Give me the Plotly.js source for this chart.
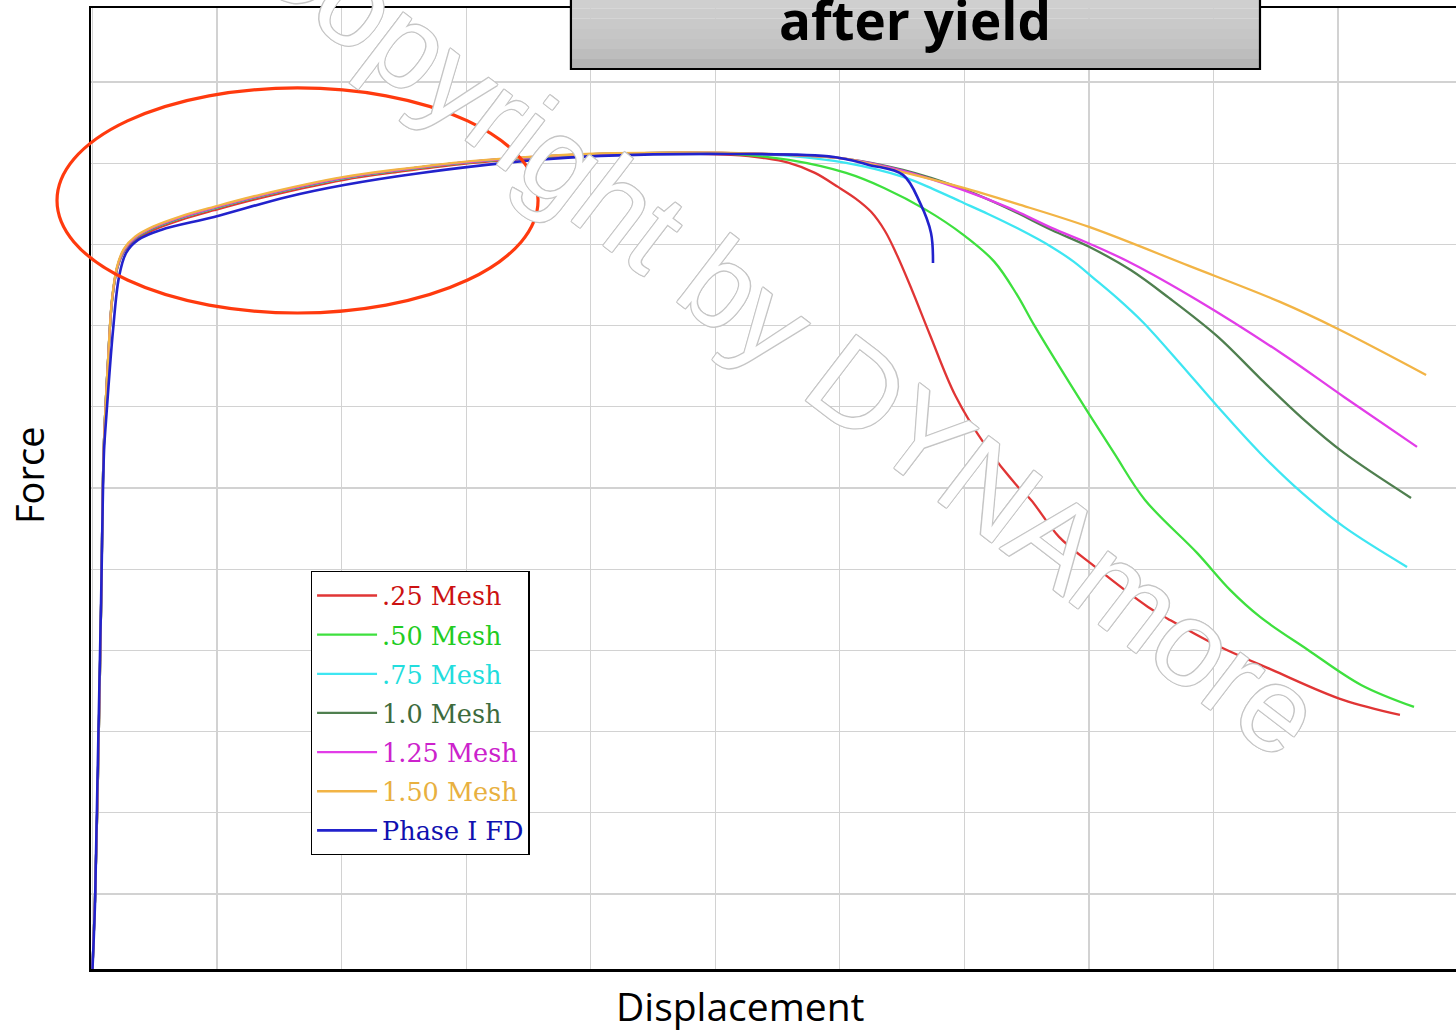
<!DOCTYPE html>
<html>
<head>
<meta charset="utf-8">
<script src="https://cdn.plot.ly/plotly-3.0.1.min.js"></script>
<style>html,body{margin:0;padding:0;background:#fff;}#chart{width:1456px;height:1032px;}</style>
</head>
<body>
<div id="chart"></div>
<script>
// Series names and colours
const seriesNames = ['.25 Mesh', '.50 Mesh', '.75 Mesh', '1.0 Mesh', '1.25 Mesh', '1.50 Mesh', 'Phase I FD'];
const lineColors = ['#e03535', '#3ee03e', '#3ee6f2', '#4f7f4f', '#e23de8', '#f2b445', '#2222cc'];
const labelColors = ['#cc1111', '#22cc22', '#22dddd', '#3d6b3d', '#cc22cc', '#e8b040', '#1010b0'];
const xTitle = 'Displacement';
const yTitle = 'Force';
const chartTitle = 'after yield';

// Displacement / Force values (grid units)
const x_025 = [0.00, 0.02, 0.04, 0.07, 0.09, 0.125, 0.157, 0.197, 0.253, 0.342, 0.486, 0.703, 0.976, 1.345, 2.020, 2.469, 2.943, 3.561, 4.075, 4.556, 5.126, 5.400, 5.592, 5.800, 5.985, 6.130, 6.251, 6.360, 6.451, 6.579, 6.724, 6.925, 7.166, 7.431, 7.535, 7.760, 8.040, 8.474, 8.635, 8.988, 9.470, 10.040, 10.497];
const y_025 = [0.076, 0.926, 2.158, 4.621, 6.468, 7.576, 8.300, 8.690, 8.910, 9.055, 9.175, 9.298, 9.420, 9.570, 9.795, 9.895, 9.985, 10.062, 10.105, 10.120, 10.101, 10.060, 10.002, 9.880, 9.707, 9.560, 9.400, 9.170, 8.894, 8.438, 7.884, 7.145, 6.530, 6.012, 5.852, 5.397, 5.039, 4.534, 4.387, 4.091, 3.759, 3.389, 3.205];

const x_050 = [0.00, 0.02, 0.04, 0.07, 0.09, 0.125, 0.157, 0.197, 0.253, 0.342, 0.486, 0.703, 0.976, 1.345, 2.020, 2.469, 2.943, 3.561, 4.075, 4.556, 5.126, 5.592, 6.050, 6.355, 6.692, 6.989, 7.238, 7.423, 7.559, 7.864, 8.201, 8.450, 8.868, 9.133, 9.374, 9.759, 10.185, 10.610];
const y_050 = [0.076, 0.926, 2.158, 4.621, 6.468, 7.576, 8.310, 8.705, 8.925, 9.072, 9.195, 9.318, 9.440, 9.590, 9.812, 9.910, 9.998, 10.072, 10.110, 10.124, 10.113, 10.039, 9.879, 9.694, 9.424, 9.120, 8.790, 8.377, 8.007, 7.244, 6.431, 5.852, 5.200, 4.744, 4.411, 4.005, 3.574, 3.303];

const x_075 = [0.00, 0.02, 0.04, 0.07, 0.09, 0.125, 0.157, 0.197, 0.253, 0.342, 0.486, 0.703, 0.976, 1.345, 2.020, 2.469, 2.943, 3.561, 4.075, 4.556, 5.126, 5.592, 6.050, 6.507, 6.750, 6.965, 7.190, 7.423, 7.700, 7.880, 8.032, 8.225, 8.434, 8.707, 9.036, 9.374, 9.711, 10.048, 10.554];
const y_075 = [0.076, 0.926, 2.158, 4.621, 6.468, 7.576, 8.312, 8.707, 8.929, 9.077, 9.200, 9.322, 9.445, 9.594, 9.816, 9.916, 10.002, 10.076, 10.113, 10.126, 10.120, 10.089, 10.002, 9.830, 9.680, 9.530, 9.374, 9.200, 8.968, 8.783, 8.590, 8.340, 8.040, 7.576, 6.997, 6.431, 5.938, 5.520, 5.027];

const x_100 = [0.00, 0.02, 0.04, 0.07, 0.09, 0.125, 0.157, 0.197, 0.253, 0.342, 0.486, 0.703, 0.976, 1.345, 2.020, 2.469, 2.943, 3.561, 4.075, 4.556, 5.126, 5.592, 6.050, 6.507, 6.965, 7.358, 7.700, 8.001, 8.338, 8.643, 9.036, 9.374, 9.711, 10.048, 10.586];
const y_100 = [0.076, 0.926, 2.158, 4.621, 6.468, 7.576, 8.315, 8.709, 8.931, 9.079, 9.202, 9.325, 9.448, 9.596, 9.818, 9.916, 10.002, 10.076, 10.113, 10.126, 10.124, 10.101, 10.052, 9.916, 9.694, 9.436, 9.177, 8.970, 8.680, 8.340, 7.860, 7.350, 6.860, 6.431, 5.877];

const x_125 = [0.00, 0.02, 0.04, 0.07, 0.09, 0.125, 0.157, 0.197, 0.253, 0.342, 0.486, 0.703, 0.976, 1.345, 2.020, 2.469, 2.943, 3.561, 4.075, 4.556, 5.126, 5.592, 6.050, 6.507, 6.965, 7.358, 7.700, 8.001, 8.338, 8.868, 9.542, 10.048, 10.634];
const y_125 = [0.076, 0.926, 2.158, 4.621, 6.468, 7.576, 8.318, 8.712, 8.934, 9.083, 9.206, 9.330, 9.452, 9.600, 9.821, 9.918, 10.004, 10.078, 10.114, 10.127, 10.124, 10.101, 10.052, 9.904, 9.682, 9.448, 9.202, 9.010, 8.771, 8.315, 7.662, 7.120, 6.505];

const x_150 = [0.00, 0.02, 0.04, 0.07, 0.09, 0.125, 0.157, 0.197, 0.253, 0.342, 0.486, 0.703, 0.976, 1.345, 2.020, 2.469, 2.943, 3.561, 4.075, 4.556, 5.126, 5.592, 6.050, 6.507, 6.965, 7.423, 8.001, 8.804, 9.534, 10.000, 10.707];
const y_150 = [0.076, 0.926, 2.158, 4.621, 6.468, 7.590, 8.330, 8.725, 8.948, 9.095, 9.218, 9.342, 9.462, 9.610, 9.830, 9.926, 10.010, 10.082, 10.118, 10.130, 10.126, 10.101, 10.052, 9.889, 9.707, 9.498, 9.214, 8.734, 8.291, 7.958, 7.392];

const x_fd = [0.00, 0.021, 0.037, 0.069, 0.093, 0.109, 0.165, 0.213, 0.270, 0.366, 0.550, 0.976, 1.562, 2.020, 2.638, 3.561, 4.075, 5.126, 5.953, 6.234, 6.507, 6.644, 6.732, 6.748];
const y_fd = [0.076, 0.926, 2.158, 4.621, 6.468, 6.837, 7.946, 8.599, 8.894, 9.054, 9.177, 9.337, 9.584, 9.731, 9.879, 10.039, 10.089, 10.113, 10.076, 9.978, 9.855, 9.510, 9.140, 8.771];

const xSeries = [x_025, x_050, x_075, x_100, x_125, x_150, x_fd];
const ySeries = [y_025, y_050, y_075, y_100, y_125, y_150, y_fd];

const traces = seriesNames.map((n, i) => ({
  type: 'scatter', mode: 'lines',
  x: xSeries[i], y: ySeries[i],
  name: '<span style="color:' + labelColors[i] + '">' + n + '</span>',
  legendgroup: 'g' + i,
  line: {color: lineColors[i], width: i === 6 ? 2.6 : 2.3, shape: 'spline', smoothing: 1.0},
  hoverinfo: 'skip'
}));

// title box gradient bands
const shapes = [];
const boxX0 = 0.3516, boxX1 = 0.8564, boxY0 = 0.9365, boxY1 = 1.02;
const bandColors = ['#d2d2d2', '#cfcfcf', '#cccccc', '#c9c9c9', '#c6c6c6', '#c3c3c3', '#bdbdbd', '#b4b4b4'];
const nb = bandColors.length;
for (let k = 0; k < nb; k++) {
  const yTop = boxY1 - (boxY1 - boxY0) * k / nb;
  const yBot = boxY1 - (boxY1 - boxY0) * (k + 1) / nb;
  shapes.push({type: 'rect', xref: 'paper', yref: 'paper', x0: boxX0, x1: boxX1, y0: yBot, y1: yTop,
    fillcolor: bandColors[k], line: {width: 0}, layer: 'above'});
}
shapes.push({type: 'rect', xref: 'paper', yref: 'paper', x0: boxX0, x1: boxX1, y0: boxY0, y1: boxY1,
  fillcolor: 'rgba(0,0,0,0)', line: {color: '#000', width: 2.2}, layer: 'above'});
// red highlight ellipse
shapes.push({type: 'circle', xref: 'paper', yref: 'paper', x0: -0.0249, x1: 0.3275, y0: 0.6826, y1: 0.9168,
  fillcolor: 'rgba(0,0,0,0)', line: {color: '#ff3a0e', width: 3.2}, layer: 'above'});

const wmGray = '#c6c6c6';
const outline = ['1px 0 0 ' + wmGray, '-1px 0 0 ' + wmGray, '0 1px 0 ' + wmGray, '0 -1px 0 ' + wmGray,
  '1px 1px 0 ' + wmGray, '-1px -1px 0 ' + wmGray, '1px -1px 0 ' + wmGray, '-1px 1px 0 ' + wmGray].join(', ');

const layout = {
  width: 1456, height: 1032,
  margin: {l: 91, r: 0, t: 8, b: 63},
  paper_bgcolor: '#ffffff', plot_bgcolor: '#ffffff',
  showlegend: true,
  legend: {
    x: 0.161, y: 0.414, xanchor: 'left', yanchor: 'top',
    bgcolor: '#ffffff', bordercolor: '#000000', borderwidth: 1.3,
    font: {family: 'DejaVu Serif', size: 25.5, color: '#000'},
    itemwidth: 60, tracegroupgap: 3, traceorder: 'grouped', itemclick: false
  },
  xaxis: {
    range: [-0.012, 10.947], tick0: 0, dtick: 1,
    showgrid: true, gridcolor: '#d2d2d2', gridwidth: 1.2, zeroline: false,
    showticklabels: false, ticks: '',
    showline: true, linecolor: '#000', linewidth: 2.5, mirror: true
  },
  yaxis: {
    range: [0.076, 11.91], tick0: 0, dtick: 1,
    showgrid: true, gridcolor: '#d2d2d2', gridwidth: 1.2, zeroline: false,
    showticklabels: false, ticks: '',
    showline: true, linecolor: '#000', linewidth: 2.5, mirror: false
  },
  shapes: shapes,
  annotations: [
    {text: 'Copyright by DYNAmore', xref: 'paper', yref: 'paper', x: 0.508, y: 0.664,
     xanchor: 'center', yanchor: 'middle', showarrow: false, textangle: 37.4,
     font: {family: 'Liberation Sans', size: 120, color: '#ffffff', shadow: outline}},
    {text: '<b>' + chartTitle + '</b>', xref: 'paper', yref: 'paper', x: 0.6037, y: 0.988,
     xanchor: 'center', yanchor: 'middle', showarrow: false,
     font: {family: 'Open Sans', size: 53, color: '#000'}},
    {text: xTitle, xref: 'paper', yref: 'paper', x: 0.4758, y: -0.0385,
     xanchor: 'center', yanchor: 'middle', showarrow: false,
     font: {family: 'Open Sans', size: 39, color: '#000'}},
    {text: yTitle, xref: 'paper', yref: 'paper', x: -0.0454, y: 0.514,
     xanchor: 'center', yanchor: 'middle', showarrow: false, textangle: -90,
     font: {family: 'Open Sans', size: 38, color: '#000'}}
  ]
};

Plotly.newPlot('chart', traces, layout, {displayModeBar: false, staticPlot: true});
</script>
</body>
</html>
